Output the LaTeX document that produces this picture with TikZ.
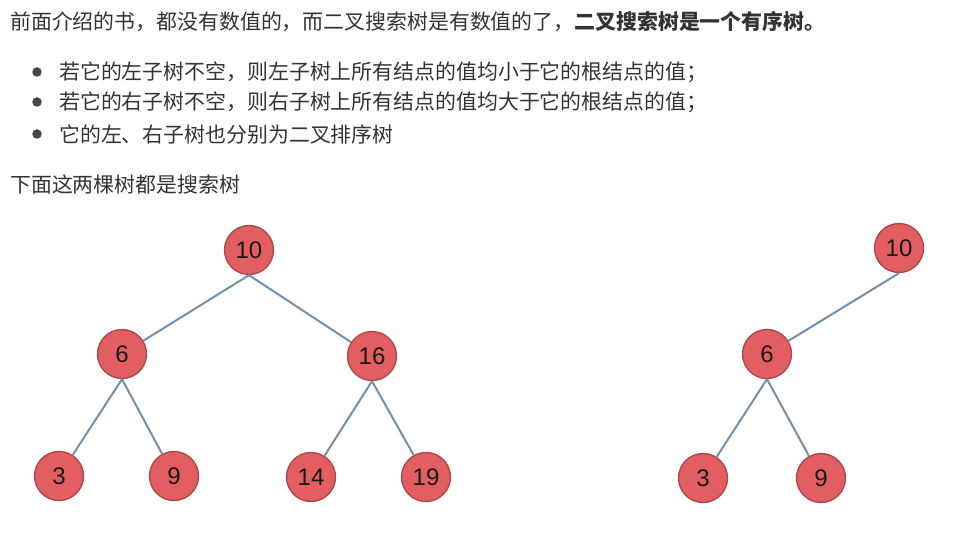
\documentclass[tikz,border=0pt]{standalone}
\usepackage{fontspec}
\newfontfamily\cjk{Noto Sans CJK SC}
\newfontfamily\numfont{Liberation Sans}
\definecolor{txt}{HTML}{333333}
\definecolor{nodefill}{HTML}{E25E61}
\definecolor{nodeedge}{HTML}{A9464A}
\definecolor{edgecol}{HTML}{7490A8}
\tikzset{
  line/.style={anchor=west, inner sep=0pt, text=txt, font=\cjk\fontsize{20.9pt}{24pt}\selectfont},
  bulletdot/.style={circle, fill=txt!90, inner sep=0pt, minimum size=9.5pt},
  tnode/.style={circle, fill=nodefill, draw=nodeedge, line width=1.3pt, minimum size=49pt, inner sep=0pt, font=\numfont\fontsize{24pt}{26pt}\selectfont, text=black!90},
  tedge/.style={draw=edgecol, line width=2pt}
}
\begin{document}
\begin{tikzpicture}[x=1pt,y=-1pt]
\useasboundingbox[fill=white] (0,0) rectangle (955,537);
% text
\node[line] (t0) at (10,22) {前面介绍的书，都没有数值的，而二叉搜索树是有数值的了，\textbf{二叉搜索树是一个有序树。}};
\node[bulletdot] (b1) at (37,72) {};
\node[bulletdot] (b2) at (37,102) {};
\node[bulletdot] (b3) at (37,134) {};
\node[line] (l1) at (59,72) {若它的左子树不空，则左子树上所有结点的值均小于它的根结点的值；};
\node[line] (l2) at (59,102) {若它的右子树不空，则右子树上所有结点的值均大于它的根结点的值；};
\node[line] (l3) at (59,135) {它的左、右子树也分别为二叉排序树};
\node[line] (t1) at (10,185) {下面这两棵树都是搜索树};
% tree 1
\node[tnode] (a10) at (249,250) {10};
\node[tnode] (a6) at (122,354) {6};
\node[tnode] (a16) at (372,356) {16};
\node[tnode] (a3) at (59,476) {3};
\node[tnode] (a9) at (174,476) {9};
\node[tnode] (a14) at (311,477) {14};
\node[tnode] (a19) at (426,477) {19};
% tree 2
\node[tnode] (c10) at (899,248) {10};
\node[tnode] (c6) at (767,354) {6};
\node[tnode] (c3) at (703,478) {3};
\node[tnode] (c9) at (821,478) {9};
% edges
\draw[tedge] (a10.south) -- (a6);
\draw[tedge] (a10.south) -- (a16);
\draw[tedge] (a6.south) -- (a3);
\draw[tedge] (a6.south) -- (a9);
\draw[tedge] (a16.south) -- (a14);
\draw[tedge] (a16.south) -- (a19);
\draw[tedge] (c10.south) -- (c6);
\draw[tedge] (c6.south) -- (c3);
\draw[tedge] (c6.south) -- (c9);
\end{tikzpicture}
\end{document}
